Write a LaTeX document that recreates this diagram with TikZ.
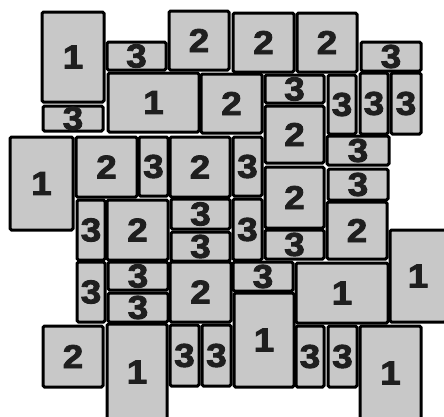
\documentclass[tikz,border=0pt]{standalone}
\usepackage{fontspec}
\usepackage{tikz}
\usepackage{xcolor}
\newfontfamily\digitfont{Liberation Sans}[UprightFont={* Bold}, FakeStretch=1.12, FakeBold=2.6]
\definecolor{tilegray}{RGB}{200,200,200}

\begin{document}
\begin{tikzpicture}[
x=1pt, y=-1pt,
tile/.style={draw, line width=3pt, fill=tilegray, rounded corners=1.5pt, inner sep=0pt,
  font={\digitfont\fontsize{33}{33}\selectfont}, text=black!88}
]
\useasboundingbox (0,0) rectangle (444,416);
% top band
\node[tile, minimum width=62pt, minimum height=90pt] (t1) at (73,57) {1};
\node[tile, minimum width=59pt, minimum height=28pt] (t2) at (136.5,56) {3};
\node[tile, minimum width=60pt, minimum height=59pt] (t3) at (199,40.5) {2};
\node[tile, minimum width=61pt, minimum height=59pt] (t4) at (263.5,42.5) {2};
\node[tile, minimum width=60pt, minimum height=59pt] (t5) at (327,42.5) {2};
\node[tile, minimum width=60pt, minimum height=29pt] (t6) at (391,56.5) {3};
% second band
\node[tile, minimum width=60pt, minimum height=25pt] (t7) at (73,118.5) {3};
\node[tile, minimum width=91pt, minimum height=59pt] (t8) at (153.5,102.5) {1};
\node[tile, minimum width=61pt, minimum height=59pt] (t9) at (231.5,103.5) {2};
\node[tile, minimum width=59pt, minimum height=28pt] (t10) at (294.5,89) {3};
\node[tile, minimum width=59pt, minimum height=57pt] (t11) at (294.5,134.5) {2};
\node[tile, minimum width=28pt, minimum height=59pt] (t12) at (342,104.5) {3};
\node[tile, minimum width=28pt, minimum height=61pt] (t13) at (374,103.5) {3};
\node[tile, minimum width=30pt, minimum height=61pt] (t14) at (406,103.5) {3};
% third band
\node[tile, minimum width=63pt, minimum height=93pt] (t15) at (41.5,183.5) {1};
\node[tile, minimum width=61pt, minimum height=60pt] (t16) at (106.5,167) {2};
\node[tile, minimum width=29pt, minimum height=59pt] (t17) at (153.5,166.5) {3};
\node[tile, minimum width=60pt, minimum height=60pt] (t18) at (200,167) {2};
\node[tile, minimum width=29pt, minimum height=59pt] (t19) at (247.5,166.5) {3};
\node[tile, minimum width=59pt, minimum height=61pt] (t20) at (294.5,197.5) {2};
\node[tile, minimum width=62pt, minimum height=29pt] (t21) at (358,150.5) {3};
\node[tile, minimum width=60pt, minimum height=31pt] (t22) at (358,184.5) {3};
% fourth band
\node[tile, minimum width=28pt, minimum height=60pt] (t23) at (91,230) {3};
\node[tile, minimum width=61pt, minimum height=60pt] (t24) at (137.5,230) {2};
\node[tile, minimum width=59pt, minimum height=30pt] (t25) at (200.5,214) {3};
\node[tile, minimum width=59pt, minimum height=29pt] (t26) at (200.5,246.5) {3};
\node[tile, minimum width=29pt, minimum height=61pt] (t27) at (247.5,229.5) {3};
\node[tile, minimum width=59pt, minimum height=29pt] (t28) at (294.5,244.5) {3};
\node[tile, minimum width=60pt, minimum height=57pt] (t29) at (357,230.5) {2};
\node[tile, minimum width=56pt, minimum height=92pt] (t30) at (418,276) {1};
% fifth band
\node[tile, minimum width=28pt, minimum height=60pt] (t31) at (91,292) {3};
\node[tile, minimum width=60pt, minimum height=28pt] (t32) at (138,276) {3};
\node[tile, minimum width=60pt, minimum height=29pt] (t33) at (138,307.5) {3};
\node[tile, minimum width=61pt, minimum height=60pt] (t34) at (200.5,292) {2};
\node[tile, minimum width=60pt, minimum height=29pt] (t35) at (263,276.5) {3};
\node[tile, minimum width=92pt, minimum height=60pt] (t36) at (342,293) {1};
% bottom band
\node[tile, minimum width=60pt, minimum height=94pt] (t37) at (264,340) {1};
\node[tile, minimum width=60pt, minimum height=61pt] (t38) at (73,356.5) {2};
\node[tile, minimum width=60pt, minimum height=96pt] (t39) at (137,372) {1};
\node[tile, minimum width=29pt, minimum height=61pt] (t40) at (184.5,355.5) {3};
\node[tile, minimum width=29pt, minimum height=61pt] (t41) at (216.5,355.5) {3};
\node[tile, minimum width=28pt, minimum height=61pt] (t42) at (310,356.5) {3};
\node[tile, minimum width=29pt, minimum height=61pt] (t43) at (342.5,356.5) {3};
\node[tile, minimum width=61pt, minimum height=94pt] (t44) at (390.5,373) {1};
\end{tikzpicture}
\end{document}
